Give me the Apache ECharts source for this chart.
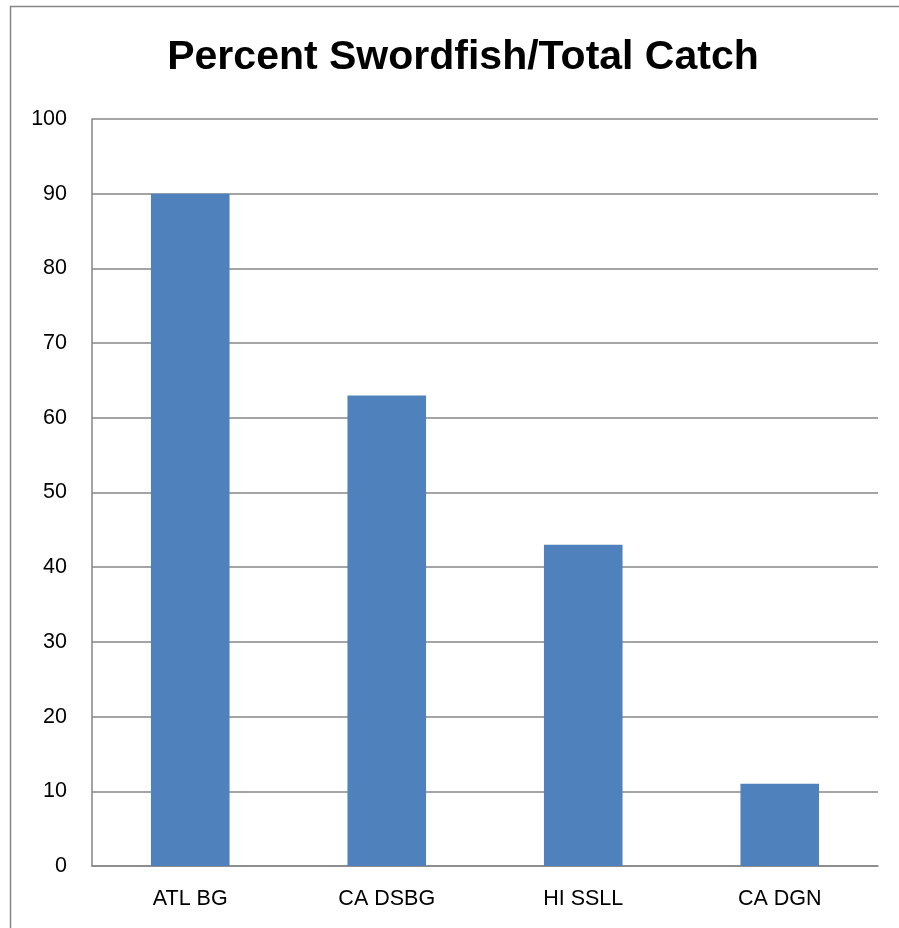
<!DOCTYPE html>
<html>
<head>
<meta charset="utf-8">
<script src="https://cdn.jsdelivr.net/npm/echarts@6/dist/echarts.min.js"></script>
<style>
  html, body { margin: 0; padding: 0; background: #fff; }
  #chart { width: 899px; height: 928px; }
</style>
</head>
<body>
<div id="chart"></div>
<script>
// 数据
const categories = ['ATL BG', 'CA DSBG', 'HI SSLL', 'CA DGN']
const percentValues = [90, 63, 43, 11]

const chart = echarts.init(document.getElementById('chart'))

const option = {
  animation: false,
  backgroundColor: '#fff',
  // 外框
  graphic: [
    {
      type: 'rect',
      shape: { x: 10.5, y: 6.5, width: 900, height: 930 },
      style: { fill: 'none', stroke: '#868686', lineWidth: 1.5 }
    }
  ],
  title: {
    text: 'Percent Swordfish/Total Catch',
    left: 458,
    top: 32,
    textAlign: 'center',
    textStyle: {
      fontFamily: 'Liberation Sans',
      fontWeight: 'bold',
      fontSize: 41,
      color: '#000'
    }
  },
  grid: {
    left: 92,
    right: 21,
    top: 119,
    bottom: 62,
    containLabel: false
  },
  xAxis: {
    type: 'category',
    data: categories,
    axisLine: { lineStyle: { color: '#868686', width: 1.5 } },
    axisTick: { show: false },
    axisLabel: {
      margin: 22,
      fontFamily: 'Liberation Sans',
      fontSize: 21.5,
      color: '#000'
    }
  },
  yAxis: {
    type: 'value',
    min: 0,
    max: 100,
    interval: 10,
    axisLine: { show: true, lineStyle: { color: '#868686', width: 1.5 } },
    axisTick: { show: false },
    splitLine: { lineStyle: { color: '#868686', width: 1.5 } },
    axisLabel: {
      margin: 25,
      fontFamily: 'Liberation Sans',
      fontSize: 21.5,
      color: '#000'
    }
  },
  series: [
    {
      type: 'bar',
      data: percentValues,
      barWidth: '40%',
      itemStyle: { color: '#4f81bd' }
    }
  ]
}

chart.setOption(option)
</script>
</body>
</html>
